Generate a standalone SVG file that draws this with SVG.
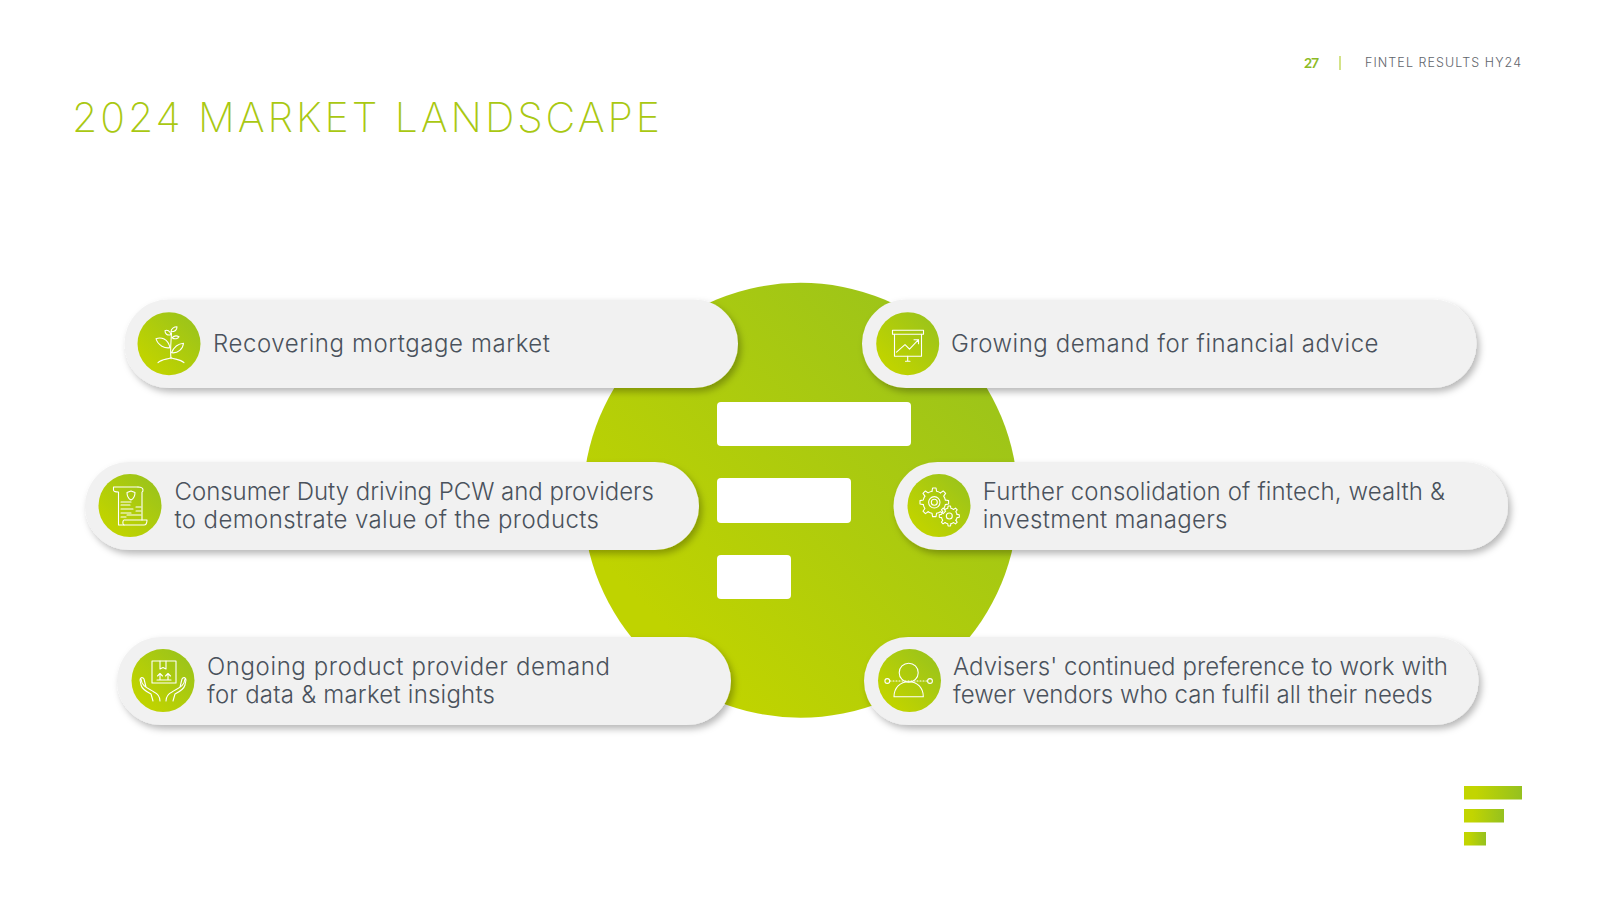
<svg xmlns="http://www.w3.org/2000/svg" xmlns:xlink="http://www.w3.org/1999/xlink" width="1600" height="900" viewBox="0 0 1600 900">
<style>
.pill{fill:#f1f1f1;filter:url(#sh)}
.t{font-family:"Inter","Lato","Liberation Sans",sans-serif;font-size:24px;font-weight:300;fill:#4a525c}
.ic{fill:none;stroke:#fff;stroke-width:1.1;stroke-linejoin:round;stroke-linecap:round}
.ib{fill:url(#gr)}
.bar{fill:#fff}
</style>
<defs>
<linearGradient id="gr" x1="0" y1="1" x2="1" y2="0"><stop offset="0.2" stop-color="#bfd300"/><stop offset="1" stop-color="#95c11f"/></linearGradient>
<linearGradient id="gl" x1="0" y1="0" x2="1" y2="0"><stop offset="0.2" stop-color="#c2d500"/><stop offset="1" stop-color="#95c11f"/></linearGradient>
<filter id="sh" x="-5%" y="-20%" width="110%" height="150%"><feDropShadow dx="3" dy="4" stdDeviation="3.5" flood-color="#000" flood-opacity="0.28"/></filter>
<path id="tooth" vector-effect="non-scaling-stroke" d="M-1.6-7.7L-1.2-10H1.2L1.6-7.7A7.86 7.86 0 0 1 4.31-6.58"/>
<g id="gear">
<use href="#tooth"/><use href="#tooth" transform="rotate(45)"/><use href="#tooth" transform="rotate(90)"/><use href="#tooth" transform="rotate(135)"/><use href="#tooth" transform="rotate(180)"/><use href="#tooth" transform="rotate(225)"/><use href="#tooth" transform="rotate(270)"/><use href="#tooth" transform="rotate(315)"/>
</g>
</defs>
<rect width="1600" height="900" fill="#fff"/>
<g id="header">
<text x="72" y="132" textLength="588" font-family="Inter,Lato,'Liberation Sans',sans-serif" font-size="41" font-weight="200" fill="#a9c812">2024 MARKET LANDSCAPE</text>
<text x="1304" y="68" textLength="15" font-family="Lato,'Liberation Sans',sans-serif" font-size="14" font-weight="700" fill="#8dbb25">27</text>
<rect x="1339.500" y="56" width="1" height="14" fill="#a9c812"/>
<text x="1365" y="67" textLength="156" font-family="Inter,Lato,'Liberation Sans',sans-serif" font-size="12.500" font-weight="300" fill="#5f656c">FINTEL RESULTS HY24</text>
</g>
<g id="center">
<circle cx="800.500" cy="500.300" r="217.500" fill="url(#gr)"/>
<rect class="bar" x="717" y="402" width="194" height="44" rx="4"/>
<rect class="bar" x="717" y="478" width="134" height="45" rx="4"/>
<rect class="bar" x="717" y="555" width="74" height="44" rx="4"/>
</g>
<g id="connectors"/>
<g id="n1">
<rect class="pill" x="124.500" y="299.500" width="613.500" height="88.500" rx="44"/>
<circle class="ib" cx="169" cy="343.700" r="31.500"/>
<g class="ic" transform="translate(0 .7)" stroke-width="1">
<path d="M171 358C170 350 171 342 171.500 332"/>
<path d="M170 347C165 348 158 345 156 338C161 336 168 338 170 347Z"/>
<path d="M171.500 352C174 346 178 343 183.500 342.500C183 348 178 353 171.500 352Z"/>
<path d="M171 334C170 330 167 329 165 330C165 333 167 335 171 334Z"/>
<path d="M171 331C171 328 174 326 177 326C177 329 175 331 171 331Z"/>
<path d="M172 337C174 335 177 335 179 336C178 338 175 339 172 337Z"/>
<path d="M158 362C162 358 167 359 171 357C175 359 180 358 184 362"/>
</g>
<text class="t" x="213" y="351.500" textLength="337">Recovering mortgage market</text>
</g>
<g id="n2">
<rect class="pill" x="85" y="462" width="614" height="88" rx="44"/>
<circle class="ib" cx="130" cy="505.600" r="31.500"/>
<g class="ic" stroke-width="1">
<path d="M113.500 487H138M118.500 492V525H124M113.500 487V490C113.500 492 118.500 492 118.500 492"/>
<path d="M138 487C141 487 143 488 143 490C143 492 142 492 142 492V520"/>
<path d="M124 525C122 524 123 520 124 520H147C147 523 146 525 144 525Z"/>
<path d="M127 492.500L131 491L135 492.500C135 497 133 499 131 500C129 499 127 497 127 492.500Z"/>
<path d="M121 502H131M121 505H130M136 507H141M121 509H133M121 513H131M136 511H141M127 515H141M121 517H126"/>
</g>
<text class="t" x="174.500" y="499.500" textLength="479.500">Consumer Duty driving PCW and providers</text>
<text class="t" x="174.500" y="527.500" textLength="424.500">to demonstrate value of the products</text>
</g>
<g id="n3">
<rect class="pill" x="117" y="637" width="614" height="88" rx="44"/>
<circle class="ib" cx="163" cy="680.600" r="31.500"/>
<g class="ic" stroke-width="1.300">
<rect x="152" y="661" width="24" height="22"/>
<path d="M160 661V669L163 667.500L166 669V661"/>
<path d="M160 680V674M157.500 676L160 673.500L162.500 676M168 680V674M165.500 676L168 673.500L170.500 676M157 680H171"/>
<path d="M153 701L151 694C147 692 142 689 141 685L140 680C140 677 143 677 144 679L146 687M141 679C142 687 148 688 154 692C158 694 160 696 160 701"/>
<path d="M173 701L175 694C179 692 184 689 185 685L186 680C186 677 183 677 182 679L180 687M185 679C184 687 178 688 172 692C168 694 166 696 166 701"/>
</g>
<text class="t" x="207" y="674.500" textLength="403">Ongoing product provider demand</text>
<text class="t" x="207" y="702.500" textLength="288">for data &amp; market insights</text>
</g>
<g id="n4">
<rect class="pill" x="862" y="299.500" width="614.500" height="88.500" rx="44"/>
<circle class="ib" cx="907.700" cy="343.700" r="31.500"/>
<g class="ic" stroke-width="1" transform="translate(0 .7)">
<rect x="892.500" y="329.500" width="31" height="4"/>
<path d="M894.500 333.500V355.500H921.500V333.500"/>
<path d="M907.700 355.500V360.500M905.500 360.500H910"/>
<path d="M896.500 351.500L905 344L909.500 348.500L918.500 339M914 339H918.500V343"/>
</g>
<text class="t" x="951" y="351.500" textLength="427.500">Growing demand for financial advice</text>
</g>
<g id="n5">
<rect class="pill" x="893.500" y="462" width="614.500" height="88" rx="44"/>
<circle class="ib" cx="939" cy="505.600" r="31.500"/>
<g class="ic" stroke-width="0.900">
<use href="#gear" transform="translate(934.300 502.300) scale(1.430)"/>
<use href="#gear" transform="translate(949.300 516) scale(1)"/>
<circle cx="934.300" cy="502.300" r="5.700"/>
<circle cx="934.300" cy="502.300" r="3"/>
<circle cx="949.300" cy="516" r="3"/>
</g>
<text class="t" x="982.700" y="499.500" textLength="462.300">Further consolidation of fintech, wealth &amp;</text>
<text class="t" x="982.700" y="527.500" textLength="244.800">investment managers</text>
</g>
<g id="n6">
<rect class="pill" x="864" y="637" width="614.500" height="88" rx="44"/>
<circle class="ib" cx="909.500" cy="680.600" r="31.500"/>
<g class="ic" stroke-width="1.100">
<circle cx="908.700" cy="672.700" r="9.500"/>
<path d="M894 696.700C894 688 900 681.700 908.700 681.700C917.500 681.700 923.300 688 923.300 696.700Z"/>
<circle cx="887.300" cy="681" r="2.400"/>
<circle cx="930" cy="681" r="2.400"/>
<path d="M890 681H927.500" stroke-dasharray="1 2"/>
</g>
<text class="t" x="953" y="674.500" textLength="495">Advisers' continued preference to work with</text>
<text class="t" x="953" y="702.500" textLength="479.600">fewer vendors who can fulfil all their needs</text>
</g>
<g id="logo">
<rect x="1464" y="786" width="58" height="13.500" fill="url(#gl)"/>
<rect x="1464" y="809" width="40" height="13.500" fill="url(#gl)"/>
<rect x="1464" y="832" width="22" height="13.500" fill="url(#gl)"/>
</g>
</svg>
